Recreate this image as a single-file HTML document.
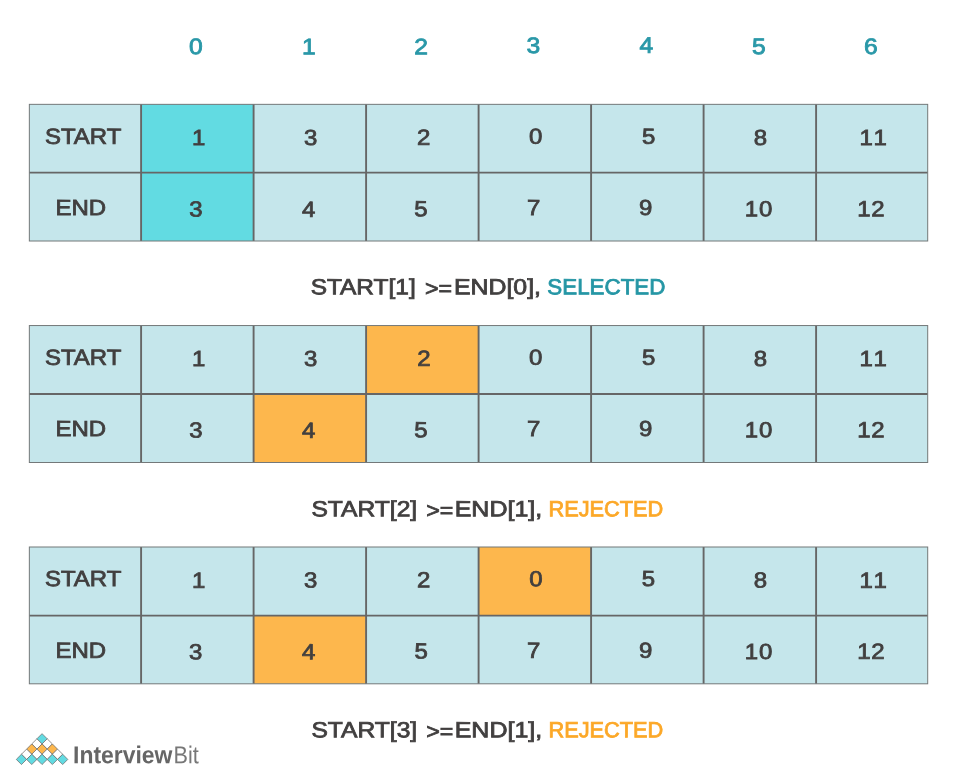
<!DOCTYPE html>
<html lang="en"><head><meta charset="utf-8"><title>Activity Selection</title>
<style>html,body{margin:0;padding:0;background:#fff}body{width:957px;height:776px;overflow:hidden}svg{display:block}text{font-family:"Liberation Sans",sans-serif}.c{font-size:21.8px;fill:#413f3f;stroke:#413f3f;stroke-width:0.8px;text-anchor:middle}.h{font-size:22.4px;fill:#2A98A8;stroke:#2A98A8;stroke-width:.85px;text-anchor:middle}.cap{font-size:21.8px;fill:#413f3f;stroke:#413f3f;stroke-width:0.8px}</style></head><body>
<svg width="957" height="776" viewBox="0 0 957 776">
<rect width="957" height="776" fill="#fff"/>
<rect x="29.35" y="104.35" width="898.35" height="136.65" fill="#C5E6EB"/>
<rect x="141.10" y="104.35" width="112.50" height="68.25" fill="#62DBE2"/>
<rect x="141.10" y="172.60" width="112.50" height="68.40" fill="#62DBE2"/>
<path d="M141.10 104.35V241.00M253.60 104.35V241.00M366.10 104.35V241.00M478.60 104.35V241.00M591.10 104.35V241.00M703.60 104.35V241.00M816.10 104.35V241.00M29.35 172.60H927.70" stroke="#666666" stroke-width="1.9" fill="none"/>
<rect x="29.35" y="104.35" width="898.35" height="136.65" fill="none" stroke="#737879" stroke-width="1"/>
<rect x="29.35" y="325.55" width="898.35" height="136.95" fill="#C5E6EB"/>
<rect x="366.10" y="325.55" width="112.50" height="68.45" fill="#FDB74D"/>
<rect x="253.60" y="394.00" width="112.50" height="68.50" fill="#FDB74D"/>
<path d="M141.10 325.55V462.50M253.60 325.55V462.50M366.10 325.55V462.50M478.60 325.55V462.50M591.10 325.55V462.50M703.60 325.55V462.50M816.10 325.55V462.50M29.35 394.00H927.70" stroke="#666666" stroke-width="1.9" fill="none"/>
<rect x="29.35" y="325.55" width="898.35" height="136.95" fill="none" stroke="#737879" stroke-width="1"/>
<rect x="29.35" y="547.00" width="898.35" height="136.80" fill="#C5E6EB"/>
<rect x="478.60" y="547.00" width="112.50" height="68.60" fill="#FDB74D"/>
<rect x="253.60" y="615.60" width="112.50" height="68.20" fill="#FDB74D"/>
<path d="M141.10 547.00V683.80M253.60 547.00V683.80M366.10 547.00V683.80M478.60 547.00V683.80M591.10 547.00V683.80M703.60 547.00V683.80M816.10 547.00V683.80M29.35 615.60H927.70" stroke="#666666" stroke-width="1.9" fill="none"/>
<rect x="29.35" y="547.00" width="898.35" height="136.80" fill="none" stroke="#737879" stroke-width="1"/>
<text class="h" transform="translate(195.86 54.11) rotate(.03) scale(1.1 1)">0</text>
<text class="h" transform="translate(308.88 54.23) rotate(.03) scale(1.1 1)">1</text>
<text class="h" transform="translate(421.20 54.23) rotate(.03) scale(1.1 1)">2</text>
<text class="h" transform="translate(533.28 52.98) rotate(.03) scale(1.1 1)">3</text>
<text class="h" transform="translate(646.30 52.66) rotate(.03) scale(1.1 1)">4</text>
<text class="h" transform="translate(758.84 54.07) rotate(.03) scale(1.1 1)">5</text>
<text class="h" transform="translate(870.95 54.04) rotate(.03) scale(1.1 1)">6</text>
<text class="c" transform="translate(83.16 143.69) rotate(.03) scale(1.1 1)">START</text>
<text class="c" transform="translate(198.60 145.02) rotate(.03) scale(1.1 1)">1</text>
<text class="c" transform="translate(310.78 144.99) rotate(.03) scale(1.1 1)">3</text>
<text class="c" transform="translate(423.79 144.86) rotate(.03) scale(1.1 1)">2</text>
<text class="c" transform="translate(535.75 143.80) rotate(.03) scale(1.1 1)">0</text>
<text class="c" transform="translate(648.69 143.63) rotate(.03) scale(1.1 1)">5</text>
<text class="c" transform="translate(760.44 144.98) rotate(.03) scale(1.1 1)">8</text>
<text class="c" letter-spacing="2.2" transform="translate(874.39 145.02) rotate(.03) scale(1.1 1)">11</text>
<text class="c" transform="translate(80.73 215.02) rotate(.03) scale(1.1 1)">END</text>
<text class="c" transform="translate(195.87 216.59) rotate(.03) scale(1.1 1)">3</text>
<text class="c" transform="translate(308.70 216.86) rotate(.03) scale(1.1 1)">4</text>
<text class="c" transform="translate(421.04 216.21) rotate(.03) scale(1.1 1)">5</text>
<text class="c" transform="translate(533.59 215.02) rotate(.03) scale(1.1 1)">7</text>
<text class="c" transform="translate(645.76 215.07) rotate(.03) scale(1.1 1)">9</text>
<text class="c" letter-spacing="0.9" transform="translate(759.06 216.18) rotate(.03) scale(1.1 1)">10</text>
<text class="c" letter-spacing="0.5" transform="translate(871.23 216.21) rotate(.03) scale(1.1 1)">12</text>
<text class="c" transform="translate(83.16 364.69) rotate(.03) scale(1.1 1)">START</text>
<text class="c" transform="translate(198.60 366.02) rotate(.03) scale(1.1 1)">1</text>
<text class="c" transform="translate(310.78 365.99) rotate(.03) scale(1.1 1)">3</text>
<text class="c" transform="translate(423.80 365.86) rotate(.03) scale(1.1 1)">2</text>
<text class="c" transform="translate(535.75 364.80) rotate(.03) scale(1.1 1)">0</text>
<text class="c" transform="translate(648.69 364.63) rotate(.03) scale(1.1 1)">5</text>
<text class="c" transform="translate(760.44 365.98) rotate(.03) scale(1.1 1)">8</text>
<text class="c" letter-spacing="2.2" transform="translate(874.39 366.02) rotate(.03) scale(1.1 1)">11</text>
<text class="c" transform="translate(80.73 436.02) rotate(.03) scale(1.1 1)">END</text>
<text class="c" transform="translate(195.86 437.59) rotate(.03) scale(1.1 1)">3</text>
<text class="c" transform="translate(308.69 437.86) rotate(.03) scale(1.1 1)">4</text>
<text class="c" transform="translate(421.04 437.21) rotate(.03) scale(1.1 1)">5</text>
<text class="c" transform="translate(533.59 436.02) rotate(.03) scale(1.1 1)">7</text>
<text class="c" transform="translate(645.76 436.07) rotate(.03) scale(1.1 1)">9</text>
<text class="c" letter-spacing="0.9" transform="translate(759.06 437.18) rotate(.03) scale(1.1 1)">10</text>
<text class="c" letter-spacing="0.5" transform="translate(871.23 437.21) rotate(.03) scale(1.1 1)">12</text>
<text class="c" transform="translate(83.13 586.06) rotate(.03) scale(1.1 1)">START</text>
<text class="c" transform="translate(198.60 587.65) rotate(.03) scale(1.1 1)">1</text>
<text class="c" transform="translate(310.65 587.62) rotate(.03) scale(1.1 1)">3</text>
<text class="c" transform="translate(423.79 587.21) rotate(.03) scale(1.1 1)">2</text>
<text class="c" transform="translate(535.80 586.31) rotate(.03) scale(1.1 1)">0</text>
<text class="c" transform="translate(648.53 586.01) rotate(.03) scale(1.1 1)">5</text>
<text class="c" transform="translate(760.49 587.62) rotate(.03) scale(1.1 1)">8</text>
<text class="c" letter-spacing="2.2" transform="translate(874.39 587.65) rotate(.03) scale(1.1 1)">11</text>
<text class="c" transform="translate(80.73 657.65) rotate(.03) scale(1.1 1)">END</text>
<text class="c" transform="translate(195.73 659.18) rotate(.03) scale(1.1 1)">3</text>
<text class="c" transform="translate(308.70 659.20) rotate(.03) scale(1.1 1)">4</text>
<text class="c" transform="translate(421.10 658.60) rotate(.03) scale(1.1 1)">5</text>
<text class="c" transform="translate(533.61 657.65) rotate(.03) scale(1.1 1)">7</text>
<text class="c" transform="translate(645.79 657.72) rotate(.03) scale(1.1 1)">9</text>
<text class="c" letter-spacing="0.9" transform="translate(759.05 658.98) rotate(.03) scale(1.1 1)">10</text>
<text class="c" letter-spacing="0.5" transform="translate(871.24 658.86) rotate(.03) scale(1.1 1)">12</text>
<text class="cap" style="fill:#413f3f;stroke:#413f3f" transform="translate(310.63 294.21) rotate(.03) scale(1.1222 1)">START[1]</text>
<text class="cap" style="fill:#413f3f;stroke:#413f3f" transform="translate(425.00 295.81) rotate(.03) scale(1.0621 1)">&gt;=</text>
<text class="cap" style="fill:#413f3f;stroke:#413f3f" transform="translate(453.90 294.21) rotate(.03) scale(1.1414 1)">END[0],</text>
<text class="cap" style="fill:#2596A5;stroke:#2596A5" transform="translate(547.31 294.21) rotate(.03) scale(1.0269 1)">SELECTED</text>
<text class="cap" style="fill:#413f3f;stroke:#413f3f" transform="translate(311.41 516.23) rotate(.03) scale(1.1295 1)">START[2]</text>
<text class="cap" style="fill:#413f3f;stroke:#413f3f" transform="translate(426.14 517.83) rotate(.03) scale(1.0636 1)">&gt;=</text>
<text class="cap" style="fill:#413f3f;stroke:#413f3f" transform="translate(454.66 516.23) rotate(.03) scale(1.1477 1)">END[1],</text>
<text class="cap" style="fill:#FCA828;stroke:#FCA828" transform="translate(548.49 516.23) rotate(.03) scale(0.9989 1)">REJECTED</text>
<text class="cap" style="fill:#413f3f;stroke:#413f3f" transform="translate(311.41 737.23) rotate(.03) scale(1.1295 1)">START[3]</text>
<text class="cap" style="fill:#413f3f;stroke:#413f3f" transform="translate(426.14 738.83) rotate(.03) scale(1.0636 1)">&gt;=</text>
<text class="cap" style="fill:#413f3f;stroke:#413f3f" transform="translate(454.66 737.23) rotate(.03) scale(1.1477 1)">END[1],</text>
<text class="cap" style="fill:#FCA828;stroke:#FCA828" transform="translate(548.49 737.23) rotate(.03) scale(0.9989 1)">REJECTED</text>
<path d="M42.06 733.65L47.21 738.80L42.06 743.95L36.91 738.80Z" fill="#62DBE2" stroke="#6e6e6e" stroke-width=".75"/>
<path d="M36.91 738.80L42.06 743.95L36.91 749.10L31.76 743.95Z" fill="#fff" stroke="#6e6e6e" stroke-width=".75"/>
<path d="M47.21 738.80L52.36 743.95L47.21 749.10L42.06 743.95Z" fill="#fff" stroke="#6e6e6e" stroke-width=".75"/>
<path d="M31.76 743.95L36.91 749.10L31.76 754.25L26.61 749.10Z" fill="#FDB74D" stroke="#6e6e6e" stroke-width=".75"/>
<path d="M42.06 743.95L47.21 749.10L42.06 754.25L36.91 749.10Z" fill="#FDB74D" stroke="#6e6e6e" stroke-width=".75"/>
<path d="M52.36 743.95L57.51 749.10L52.36 754.25L47.21 749.10Z" fill="#FDB74D" stroke="#6e6e6e" stroke-width=".75"/>
<path d="M26.61 749.10L31.76 754.25L26.61 759.40L21.46 754.25Z" fill="#fff" stroke="#6e6e6e" stroke-width=".75"/>
<path d="M36.91 749.10L42.06 754.25L36.91 759.40L31.76 754.25Z" fill="#fff" stroke="#6e6e6e" stroke-width=".75"/>
<path d="M47.21 749.10L52.36 754.25L47.21 759.40L42.06 754.25Z" fill="#fff" stroke="#6e6e6e" stroke-width=".75"/>
<path d="M57.51 749.10L62.66 754.25L57.51 759.40L52.36 754.25Z" fill="#fff" stroke="#6e6e6e" stroke-width=".75"/>
<path d="M21.46 754.25L26.61 759.40L21.46 764.55L16.31 759.40Z" fill="#62DBE2" stroke="#6e6e6e" stroke-width=".75"/>
<path d="M31.76 754.25L36.91 759.40L31.76 764.55L26.61 759.40Z" fill="#62DBE2" stroke="#6e6e6e" stroke-width=".75"/>
<path d="M42.06 754.25L47.21 759.40L42.06 764.55L36.91 759.40Z" fill="#62DBE2" stroke="#6e6e6e" stroke-width=".75"/>
<path d="M52.36 754.25L57.51 759.40L52.36 764.55L47.21 759.40Z" fill="#62DBE2" stroke="#6e6e6e" stroke-width=".75"/>
<path d="M62.66 754.25L67.81 759.40L62.66 764.55L57.51 759.40Z" fill="#62DBE2" stroke="#6e6e6e" stroke-width=".75"/>
<text font-size="24.4" font-weight="bold" fill="#666" transform="translate(73.04 763.22) rotate(.03) scale(0.9404 1)">Interview</text>
<text font-size="24.4" font-weight="normal" fill="#777" transform="translate(173.60 763.16) rotate(.03) scale(0.8868 1)">Bit</text>
</svg></body></html>
